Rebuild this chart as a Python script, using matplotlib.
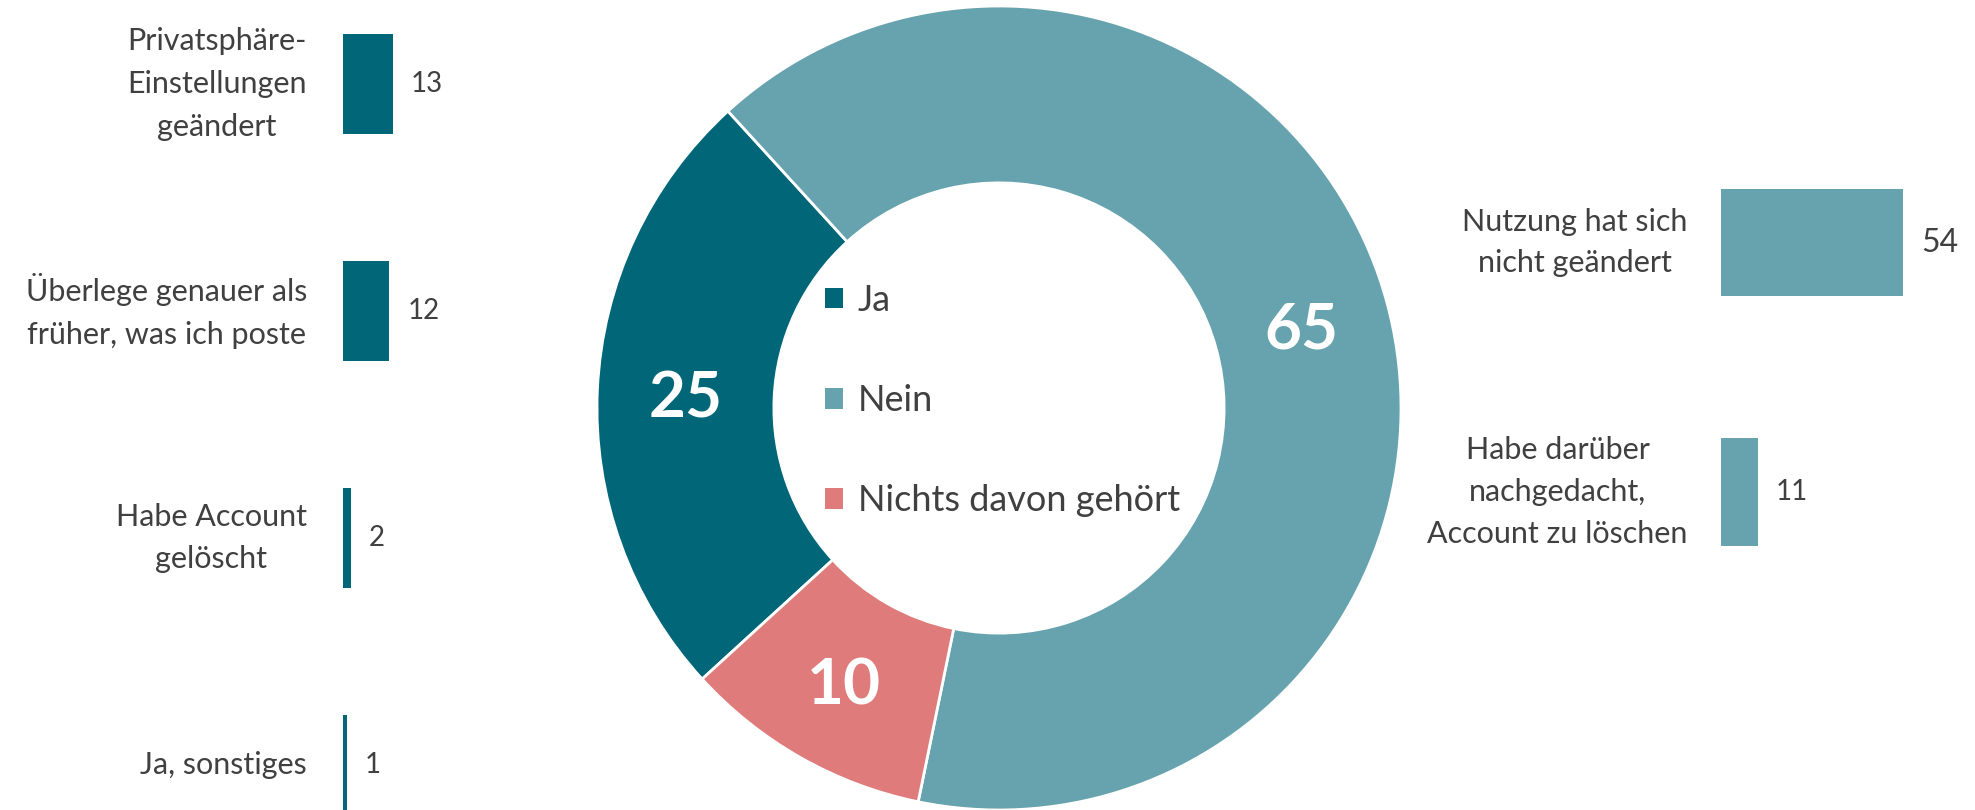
import matplotlib
matplotlib.use('Agg')
import matplotlib.pyplot as plt
from matplotlib.patches import Patch

# donut: share of answers
donut_labels = ['Ja', 'Nein', 'Nichts davon gehört']
donut_values = [25, 65, 10]

# left bars: reactions of the "Ja" group
ja_labels = ['Privatsphäre-\nEinstellungen\ngeändert',
             'Überlege genauer als\nfrüher, was ich poste',
             'Habe Account\ngelöscht',
             'Ja, sonstiges']
ja_values = [13, 12, 2, 1]

# right bars: reactions of the "Nein" group
nein_labels = ['Nutzung hat sich\nnicht geändert',
               'Habe darüber\nnachgedacht,\nAccount zu löschen']
nein_values = [54, 11]

DARK = '#006678'
LIGHT = '#67A3AE'
SALMON = '#DF7B7A'
TEXT = '#404040'

plt.rcParams['font.family'] = ['Lato', 'DejaVu Sans']

W, H = 1975, 810
fig = plt.figure(figsize=(W / 100, H / 100), dpi=100)


def px_axes(x0, y0, w, h):
    # axes placed by pixel box (top-left origin)
    return fig.add_axes([x0 / W, 1 - (y0 + h) / H, w / W, h / H])


# donut
ax = px_axes(999 - 402, 408 - 402, 804, 804)
total = sum(donut_values)
wedges, _, autotexts = ax.pie(
    donut_values, colors=[DARK, LIGHT, SALMON], startangle=222.4,
    counterclock=False, radius=1,
    wedgeprops=dict(width=0.44, edgecolor='white', linewidth=2),
    autopct=lambda p: f'{p * total / 100:.0f}', pctdistance=0.78,
    textprops=dict(color='white', fontsize=46, fontweight='bold'))
for t in autotexts:
    t.set_va('center_baseline')
ax.set_xlim(-1, 1)
ax.set_ylim(-1, 1)

handles = [Patch(facecolor=c, edgecolor='none') for c in [DARK, LIGHT, SALMON]]
leg = ax.legend(handles, donut_labels, loc='upper left',
                bbox_to_anchor=(825 / W, 1 - 284 / H), bbox_transform=fig.transFigure,
                frameon=False, fontsize=26, handlelength=0.5, handleheight=0.5,
                handletextpad=0.4, labelspacing=1.86, borderpad=0, borderaxespad=0)
for t in leg.get_texts():
    t.set_color(TEXT)

# left bars
axl = px_axes(343, 0, 100, 810)
axl.barh(range(len(ja_values)), ja_values, height=0.44, color=DARK)
axl.set_xlim(0, 100 / 3.85)
axl.set_ylim(3 + 45 / 227, -84 / 227)
axl.axis('off')
for i, (lab, v) in enumerate(zip(ja_labels, ja_values)):
    axl.annotate(lab, xy=(0, i), xytext=(-26, 0), textcoords='offset points',
                 ha='right', va='center', multialignment='center',
                 fontsize=22, color=TEXT, linespacing=1.65)
    axl.annotate(str(v), xy=(v, i), xytext=(13, 0), textcoords='offset points',
                 ha='left', va='center', fontsize=20, color=TEXT)

# right bars
axr = px_axes(1721, 0, 230, 810)
axr.barh(range(len(nein_values)), nein_values, height=0.429, color=LIGHT)
axr.set_xlim(0, 230 / 3.37)
axr.set_ylim(1 + 318 / 249.5, -242.5 / 249.5)
axr.axis('off')
for i, (lab, v) in enumerate(zip(nein_labels, nein_values)):
    axr.annotate(lab, xy=(0, i), xytext=(-24, 0), textcoords='offset points',
                 ha='right', va='center', multialignment='center',
                 fontsize=22, color=TEXT, linespacing=1.6)
    axr.annotate(str(v), xy=(v, i), xytext=(13, 0), textcoords='offset points',
                 ha='left', va='center', fontsize=v >= 50 and 23 or 20, color=TEXT)

fig.savefig('out.png', dpi=100)
